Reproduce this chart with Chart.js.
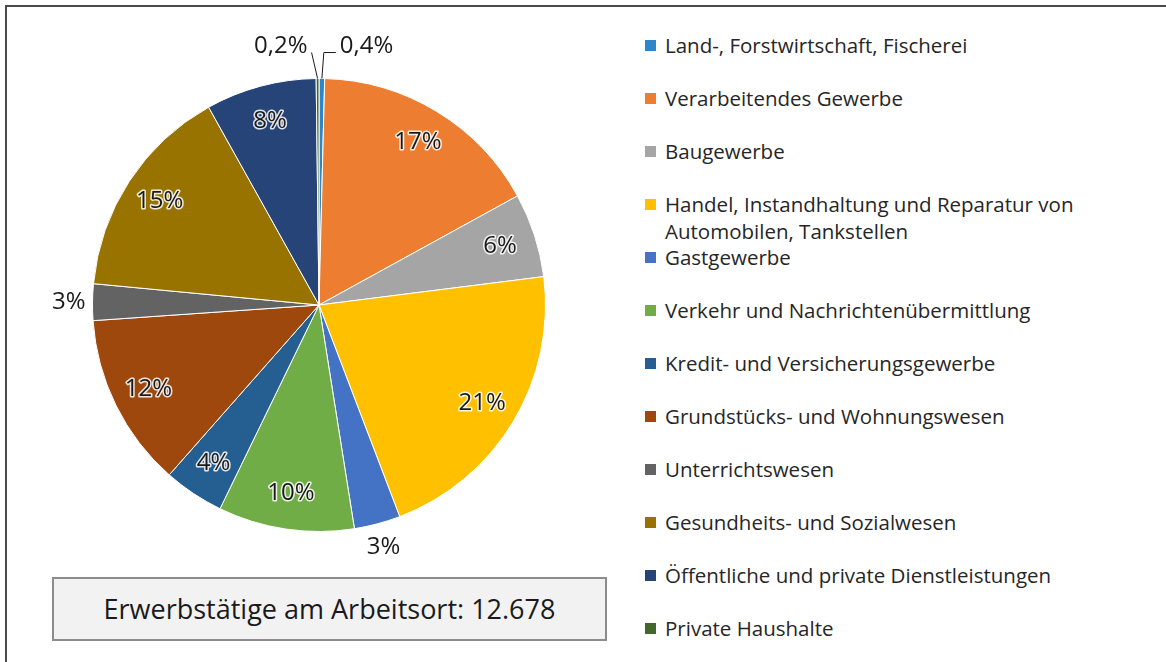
<!DOCTYPE html>
<html>
<head>
<meta charset="utf-8">
<script src="https://cdn.jsdelivr.net/npm/chart.js@4.4.1/dist/chart.umd.min.js"></script>
<style>
  html, body { margin: 0; padding: 0; background: #fff; }
  body { width: 1166px; height: 662px; position: relative; overflow: hidden; font-family: "Open Sans", "Noto Sans", sans-serif; }
  #frame { position: absolute; left: 5px; top: 5px; width: 1200px; height: 700px; border-left: 2px solid #4a4a4a; border-top: 2px solid #4a4a4a; box-sizing: border-box; }
  #pie { position: absolute; left: 0; top: 0; }
  #legend { position: absolute; left: 0; top: 0; }
  .row { position: absolute; left: 645px; line-height: 27px; font-size: 20.5px; color: #262626; white-space: nowrap; }
  .row .sw { position: absolute; left: 0; top: 8px; width: 11px; height: 11px; }
  .row .tx { position: absolute; left: 20px; top: 0; }
  #total { position: absolute; left: 52px; top: 577px; width: 555px; height: 64px; box-sizing: border-box; background: #f2f2f2; border: 2px solid #8c8c8c; font-size: 27px; color: #1a1a1a; text-align: center; line-height: 60px; }
</style>
</head>
<body>
<div id="frame"></div>
<canvas id="pie" width="638" height="575"></canvas>
<div id="legend"></div>
<div id="total">Erwerbstätige am Arbeitsort: 12.678</div>
<script>
// Anteile der Wirtschaftsbereiche (Prozent)
const categories = [
    'Land-, Forstwirtschaft, Fischerei',
    'Verarbeitendes Gewerbe',
    'Baugewerbe',
    'Handel, Instandhaltung und Reparatur von Automobilen, Tankstellen',
    'Gastgewerbe',
    'Verkehr und Nachrichtenübermittlung',
    'Kredit- und Versicherungsgewerbe',
    'Grundstücks- und Wohnungswesen',
    'Unterrichtswesen',
    'Gesundheits- und Sozialwesen',
    'Öffentliche und private Dienstleistungen',
    'Private Haushalte'
];
const legendLines = [
    ['Land-, Forstwirtschaft, Fischerei'],
    ['Verarbeitendes Gewerbe'],
    ['Baugewerbe'],
    ['Handel, Instandhaltung und Reparatur von', 'Automobilen, Tankstellen'],
    ['Gastgewerbe'],
    ['Verkehr und Nachrichtenübermittlung'],
    ['Kredit- und Versicherungsgewerbe'],
    ['Grundstücks- und Wohnungswesen'],
    ['Unterrichtswesen'],
    ['Gesundheits- und Sozialwesen'],
    ['Öffentliche und private Dienstleistungen'],
    ['Private Haushalte']
];
const shares = [0.4, 16.6, 6.0, 21.2, 3.3, 9.7, 4.3, 12.4, 2.6, 15.4, 7.9, 0.2];
const colors = ['#2e86c8','#ed7d31','#a5a5a5','#ffc000','#4472c4','#70ad47','#255e91','#9e480e','#636363','#997300','#264478','#43682b'];

function fmt(v){ return v < 1 ? v.toFixed(1).replace('.', ',') + '%' : Math.round(v) + '%'; }

// legend
(function(){
    const el = document.getElementById('legend');
    el.innerHTML = legendLines.map((lines, i) =>
        `<div class="row" style="top:${45 + i*53 - 13.5}px"><span class="sw" style="background:${colors[i]}"></span><span class="tx">${lines.join('<br>')}</span></div>`
    ).join('');
})();

const sliceLabels = {
    id: 'sliceLabels',
    afterDatasetsDraw(chart){
        const ctx = chart.ctx;
        const meta = chart.getDatasetMeta(0);
        ctx.save();
        ctx.font = '24px "Open Sans", "Noto Sans", sans-serif';
        ctx.textBaseline = 'middle';
        meta.data.forEach((arc, i) => {
            const v = shares[i];
            const p = arc.getProps(['x','y','startAngle','endAngle','outerRadius'], true);
            const mid = (p.startAngle + p.endAngle) / 2;
            const r = p.outerRadius;
            const txt = fmt(v);
            if (v >= 4) {
                const x = p.x + Math.cos(mid) * r * 0.84;
                const y = p.y + Math.sin(mid) * r * 0.84;
                ctx.textAlign = 'center';
                ctx.lineJoin = 'round';
                ctx.strokeStyle = 'rgba(255,255,255,0.85)';
                ctx.lineWidth = 3;
                ctx.strokeText(txt, x, y);
                ctx.fillStyle = '#1a1a1a';
                ctx.fillText(txt, x, y);
            } else if (v >= 1) {
                const x = p.x + Math.cos(mid) * r * 1.105;
                const y = p.y + Math.sin(mid) * r * 1.105;
                ctx.textAlign = 'center';
                ctx.fillStyle = '#1a1a1a';
                ctx.fillText(txt, x, y);
            } else {
                // tiny slices near the top: leader lines
                const ex = p.x + Math.cos(mid) * r;
                const ey = p.y + Math.sin(mid) * r;
                const right = Math.cos(mid) > 0;
                ctx.strokeStyle = '#1a1a1a';
                ctx.lineWidth = 1;
                ctx.beginPath();
                ctx.moveTo(ex, ey);
                if (right) {
                    ctx.lineTo(ex + 2, ey - 26);
                    ctx.lineTo(ex + 14, ey - 26);
                } else {
                    ctx.lineTo(ex - 6, ey - 26);
                }
                ctx.stroke();
                ctx.fillStyle = '#1a1a1a';
                ctx.textAlign = right ? 'left' : 'right';
                ctx.fillText(txt, right ? ex + 18 : ex - 10, ey - 32);
            }
        });
        ctx.restore();
    }
};

new Chart(document.getElementById('pie'), {
    type: 'pie',
    data: { labels: categories, datasets: [{ data: shares, backgroundColor: colors, borderColor: '#ffffff', borderWidth: 1 }] },
    options: {
        responsive: false,
        animation: false,
        layout: { padding: { left: 92, right: 92, top: 78, bottom: 43 } },
        plugins: { legend: { display: false }, tooltip: { enabled: false } }
    },
    plugins: [sliceLabels]
});
</script>
</body>
</html>
